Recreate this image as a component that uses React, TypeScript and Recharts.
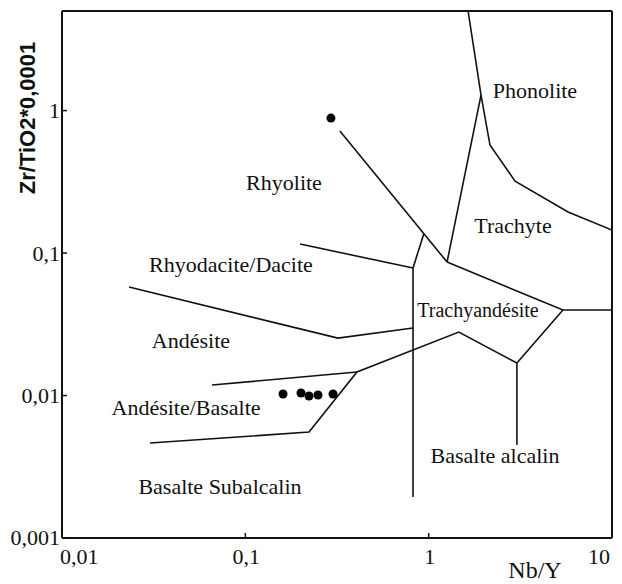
import React from 'react';
import { ScatterChart, Scatter, XAxis, YAxis, Label } from 'recharts';

// Nb/Y vs Zr/TiO2*0,0001, both log
const xTicks = [0.01, 0.1, 1, 10];
const xTickLabels = ['0,01', '0,1', '1', '10'];
const yTicks = [0.001, 0.01, 0.1, 1];
const yTickLabels = ['0,001', '0,01', '0,1', '1'];

// field boundaries
const phonoliteBoundary = [
  { x: 1.64, y: 5 },
  { x: 1.93, y: 1.285 },
  { x: 2.16, y: 0.573 },
  { x: 2.96, y: 0.32 },
  { x: 5.76, y: 0.194 },
  { x: 10, y: 0.145 },
];
const trachyteBoundary = [
  { x: 1.93, y: 1.285 },
  { x: 1.26, y: 0.0865 },
];
const rhyoliteBoundary = [
  { x: 0.328, y: 0.718 },
  { x: 1.26, y: 0.0865 },
];
const trachyandesiteTop = [
  { x: 1.26, y: 0.0865 },
  { x: 5.4, y: 0.0398 },
  { x: 10, y: 0.0398 },
];
const trachyandesiteBase = [
  { x: 5.4, y: 0.0398 },
  { x: 3.03, y: 0.0169 },
  { x: 1.46, y: 0.0279 },
  { x: 0.4065, y: 0.01462 },
  { x: 0.2225, y: 0.00554 },
  { x: 0.0302, y: 0.00464 },
];
const alkaliBasaltBoundary = [
  { x: 3.03, y: 0.0169 },
  { x: 3.03, y: 0.00449 },
];
const subalkalineBoundary = [
  { x: 0.8215, y: 0.0785 },
  { x: 0.8215, y: 0.00194 },
];
const daciteStub = [
  { x: 0.8215, y: 0.0785 },
  { x: 0.94, y: 0.136 },
];
const rhyodaciteBoundary = [
  { x: 0.199, y: 0.1157 },
  { x: 0.8215, y: 0.0785 },
];
const andesiteBoundary = [
  { x: 0.0232, y: 0.0577 },
  { x: 0.32, y: 0.0253 },
  { x: 0.8215, y: 0.0298 },
];
const andesiteBasaltBoundary = [
  { x: 0.0658, y: 0.01185 },
  { x: 0.4065, y: 0.01462 },
];

const boundaries = [
  phonoliteBoundary,
  trachyteBoundary,
  rhyoliteBoundary,
  trachyandesiteTop,
  trachyandesiteBase,
  alkaliBasaltBoundary,
  subalkalineBoundary,
  daciteStub,
  rhyodaciteBoundary,
  andesiteBoundary,
  andesiteBasaltBoundary,
];

// analysed samples
const samples = [
  { x: 0.293, y: 0.886 },
  { x: 0.1605, y: 0.01024 },
  { x: 0.2012, y: 0.01041 },
  { x: 0.2225, y: 0.00992 },
  { x: 0.2491, y: 0.01008 },
  { x: 0.3008, y: 0.01024 },
];

// field names (baseline centre)
const fieldLabels = [
  { name: 'Phonolite', x: 3.8, y: 1.224 },
  { name: 'Rhyolite', x: 0.1625, y: 0.2768 },
  { name: 'Trachyte', x: 2.884, y: 0.138 },
  { name: 'Rhyodacite/Dacite', x: 0.0835, y: 0.0736 },
  { name: 'Trachyandésite', x: 1.858, y: 0.03556 },
  { name: 'Andésite', x: 0.0505, y: 0.02154 },
  { name: 'Andésite/Basalte', x: 0.0475, y: 0.0073 },
  { name: 'Basalte alcalin', x: 2.301, y: 0.00336 },
  { name: 'Basalte Subalcalin', x: 0.0727, y: 0.002036 },
];

const SERIF = '"Liberation Serif", "Times New Roman", serif';
const SANS = '"Liberation Sans", Arial, sans-serif';
const INK = '#111';

const noDot = () => <g />;

const XTick = (props: any) => {
  const { x, y, payload } = props;
  const i = xTicks.indexOf(payload.value);
  const anchor = i === 0 ? 'start' : i === xTicks.length - 1 ? 'end' : 'middle';
  const dx = i === 0 || i === xTicks.length - 1 ? -2 : 1;
  return (
    <text x={x + dx} y={y} textAnchor={anchor} fontFamily={SERIF} fontSize={22} fill={INK}>
      {xTickLabels[i]}
    </text>
  );
};

const YTick = (props: any) => {
  const { x, y, payload } = props;
  const i = yTicks.indexOf(payload.value);
  return (
    <text x={x} y={y} dy="0.34em" textAnchor="end" fontFamily={SERIF} fontSize={22} fill={INK}>
      {yTickLabels[i]}
    </text>
  );
};

const FieldName = (props: any) => {
  const { cx, cy, payload } = props;
  const small = payload.name === 'Trachyandésite';
  return (
    <text x={cx} y={cy} textAnchor="middle" fontFamily={SERIF} fontSize={small ? 20 : 22} fill={INK}>
      {payload.name}
    </text>
  );
};

export default function App() {
  const axisLine = { stroke: INK, strokeWidth: 2 };
  const tickLine = { stroke: INK, strokeWidth: 1.5 };
  return (
    <div style={{ width: 614, height: 576, background: '#fff' }}>
      <ScatterChart width={614} height={576} margin={{ top: 0, right: 0, bottom: 0, left: 0 }}>
        <XAxis
          dataKey="x"
          type="number"
          scale="log"
          domain={[0.01, 10]}
          allowDataOverflow
          ticks={xTicks}
          tick={<XTick />}
          tickSize={-5}
          tickMargin={31}
          height={46}
          axisLine={axisLine}
          tickLine={tickLine}
        >
          <Label
            content={(p: any) => (
              <text
                x={p.viewBox.x + 473}
                y={p.viewBox.y + 40}
                textAnchor="middle"
                fontFamily={SERIF}
                fontSize={24}
                fill={INK}
              >
                Nb/Y
              </text>
            )}
          />
        </XAxis>
        <XAxis
          xAxisId="top"
          orientation="top"
          type="number"
          scale="log"
          domain={[0.01, 10]}
          allowDataOverflow
          ticks={xTicks}
          tick={false}
          tickSize={-5}
          height={3}
          axisLine={axisLine}
          tickLine={tickLine}
        />
        <YAxis
          dataKey="y"
          type="number"
          scale="log"
          domain={[0.001, 5]}
          allowDataOverflow
          ticks={yTicks}
          tick={<YTick />}
          tickSize={-5}
          tickMargin={7}
          width={54}
          axisLine={axisLine}
          tickLine={tickLine}
        >
          <Label
            content={(p: any) => (
              <text
                transform={`translate(${p.viewBox.x + 27},${p.viewBox.y + 107}) rotate(-90)`}
                textAnchor="middle"
                fontFamily={SANS}
                fontWeight="bold"
                fontSize={22}
                fill={INK}
              >
                Zr/TiO2*0,0001
              </text>
            )}
          />
        </YAxis>
        <YAxis
          yAxisId="right"
          orientation="right"
          type="number"
          scale="log"
          domain={[0.001, 5]}
          allowDataOverflow
          ticks={yTicks}
          tick={false}
          tickSize={-5}
          width={10}
          axisLine={axisLine}
          tickLine={tickLine}
        />
        {boundaries.map((b, i) => (
          <Scatter
            key={i}
            data={b}
            line={{ stroke: INK, strokeWidth: 1.6 }}
            shape={noDot}
            isAnimationActive={false}
          />
        ))}
        <Scatter data={samples} fill="#000" isAnimationActive={false} />
        <Scatter data={fieldLabels} shape={<FieldName />} isAnimationActive={false} />
      </ScatterChart>
    </div>
  );
}
